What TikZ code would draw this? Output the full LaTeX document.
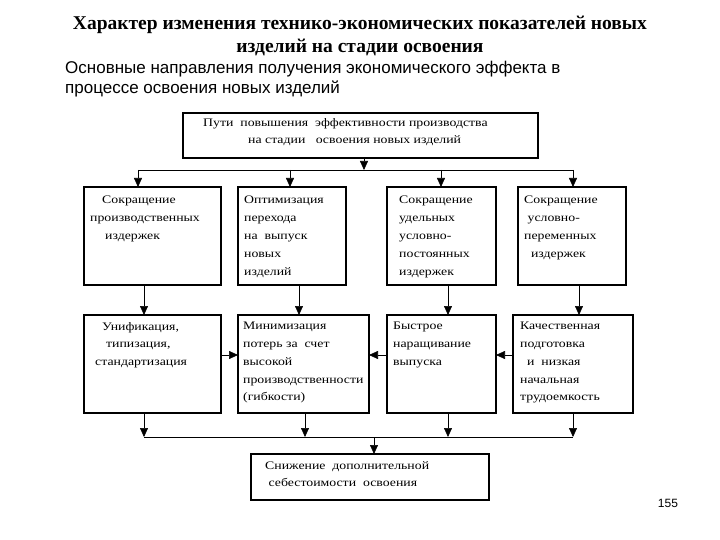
\documentclass[tikz,border=0pt]{standalone}
\usetikzlibrary{arrows.meta}
\usepackage{fontspec}
\setmainfont{Liberation Serif}
\newfontfamily\arial{Liberation Sans}
\newfontfamily\boxfont[FakeStretch=1.2]{Liberation Serif}
\begin{document}
\begin{tikzpicture}[x=1pt,y=-1pt,
  bx/.style={draw,line width=1.4pt},
  tx/.style={anchor=north west,align=left,font=\boxfont\fontsize{11.5}{17.8}\selectfont,inner sep=0pt},
  ar/.style={-{Triangle[length=9pt,width=8pt]},line width=0.6pt},
  ln/.style={line width=0.6pt}]
\useasboundingbox (0,0) rectangle (720,540);
\node[font=\bfseries\fontsize{19.5}{23}\selectfont,align=center] (title) at (360,36) {Характер изменения технико-экономических показателей новых\\изделий на стадии освоения};
\node[font=\arial\fontsize{17}{20}\selectfont,align=left,anchor=north west,inner sep=0pt] (sub) at (65,61) {Основные направления получения экономического эффекта в\\процессе освоения новых изделий};
\node[font=\arial\fontsize{12}{13}\selectfont] (num) at (668,503) {155};
% boxes
\draw[bx] (183,113) rectangle (538,158);
\coordinate (top) at (364,158);
\node[tx] at (203,118) {Пути\ \ повышения\ \ эффективности производства\\\hspace{45pt}на стадии\ \ \ освоения новых изделий};
\draw[bx] (84,187) rectangle (221,285);
\draw[bx] (238,187) rectangle (346,285);
\draw[bx] (387,187) rectangle (496,285);
\draw[bx] (518,187) rectangle (626,285);
\node[tx] at (90,196) {\hspace{12pt}Сокращение\\производственных\\\hspace{15pt}издержек};
\node[tx] at (244,196) {Оптимизация\\перехода\\на\ \ выпуск\\новых\\изделий};
\node[tx] at (399,196) {Сокращение\\удельных\\условно-\\постоянных\\издержек};
\node[tx] at (524,196) {Сокращение\\\ условно-\\переменных\\\ \ издержек};
\draw[bx] (84,315) rectangle (221,413);
\draw[bx] (238,315) rectangle (369,413);
\draw[bx] (387,315) rectangle (496,413);
\draw[bx] (513,315) rectangle (633,413);
\node[tx] at (95,322) {\hspace{7pt}Унификация,\\\hspace{11pt}типизация,\\стандартизация};
\node[tx] at (243,322) {Минимизация\\потерь за\ \ счет\\высокой\\производственности\\(гибкости)};
\node[tx] at (393,322) {Быстрое\\наращивание\\выпуска};
\node[tx] at (520,322) {Качественная\\подготовка\\\ \ и\ \ низкая\\начальная\\трудоемкость};
\draw[bx] (251,454) rectangle (489,500);
\node[tx] at (265,461) {Снижение\ \ дополнительной\\\ себестоимости\ \ освоения};
% connectors
\draw[ln] (138,170) -- (573,170);
\draw[ar] (top) -- (364,170);
\foreach \x in {138,290,441,573} \draw[ar] (\x,170) -- (\x,187);
\draw[ar] (144,285) -- (144,315);
\draw[ar] (299,285) -- (299,315);
\draw[ar] (448,285) -- (448,315);
\draw[ar] (579,285) -- (579,315);
\draw[ar] (221,355) -- (238,355);
\draw[ar] (387,355) -- (369,355);
\draw[ar] (513,355) -- (496,355);
\draw[ln] (144,437) -- (573,437);
\draw[ar] (144,413) -- (144,437);
\draw[ar] (305,413) -- (305,437);
\draw[ar] (448,413) -- (448,437);
\draw[ar] (573,413) -- (573,437);
\draw[ar] (374,437) -- (374,454);
\end{tikzpicture}
\end{document}
